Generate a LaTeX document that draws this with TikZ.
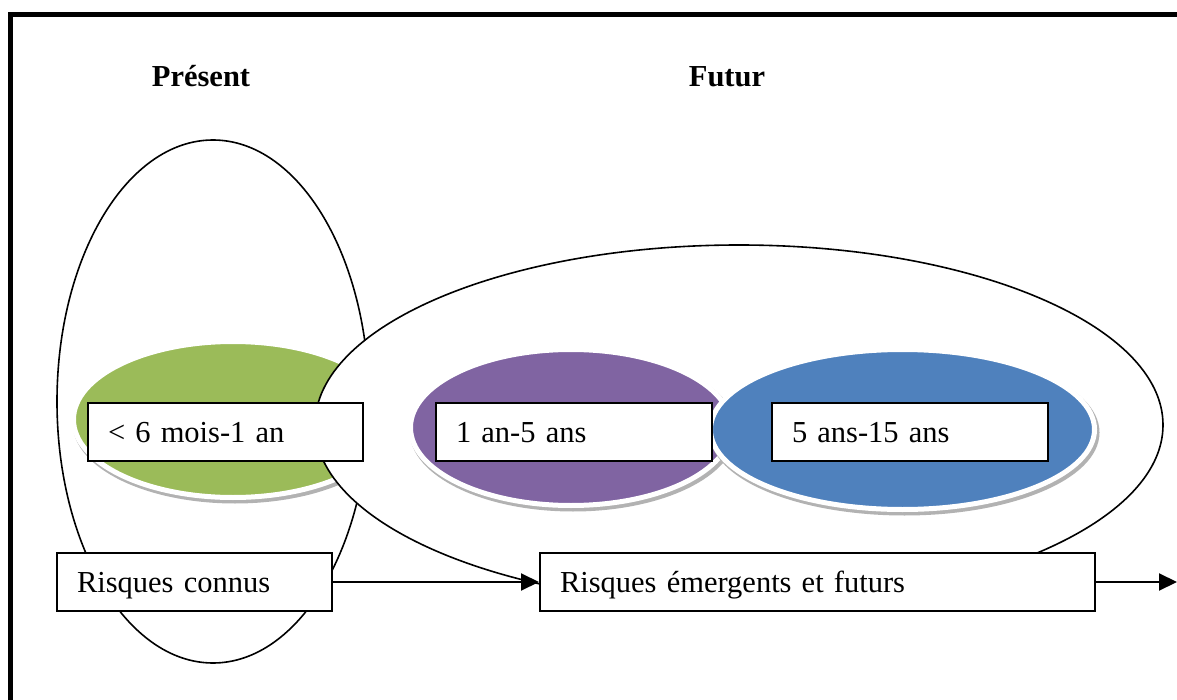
\documentclass[tikz,border=0pt]{standalone}
\usepackage{fontspec}
\setmainfont{Liberation Serif}
\usetikzlibrary{shapes.geometric,arrows.meta}
\definecolor{leafgreen}{HTML}{9BBB59}
\definecolor{plum}{HTML}{8064A2}
\definecolor{steel}{HTML}{4F81BD}
\begin{document}
\begin{tikzpicture}[x=1pt,y=-1pt,
  every node/.style={font=\fontsize{30.5}{36}\selectfont},
  heading/.style={font=\fontsize{30.5}{36}\selectfont\bfseries, anchor=base},
  horizon/.style={ellipse, draw=black, line width=1.6pt, inner sep=0pt},
  term/.style={ellipse, inner sep=0pt, fill=#1, draw=white, line width=5pt,
    preaction={draw=black!30, line width=6pt,
      transform canvas={shift={(2pt,-3pt)}}}},
  boxnode/.style={rectangle, draw=black, line width=2pt, fill=white,
    minimum height=58pt, inner xsep=20pt, inner ysep=0pt, align=left,
    text height=21pt, text depth=0pt},
  link/.style={line width=2pt, -{Triangle[length=18pt,width=17pt]}}
]
\useasboundingbox (0,0) rectangle (1177,700);
\begin{scope}
\clip (0,0) rectangle (1177,700);

% outer frame
\draw[line width=5.5pt] (10.5,14.5) rectangle (1210,730);

% column headings
\node[heading] (present-title) at (201,87) {Présent};
\node[heading] (future-title) at (727,87) {Futur};

% present horizon and short term
\node[horizon, minimum width=312pt, minimum height=523pt] (present) at (213,401.5) {};
\node[term=leafgreen, minimum width=319pt, minimum height=156pt] (shortterm) at (233,419.5) {};

% future horizon with medium and long term
\node[horizon, fill=white, minimum width=848pt, minimum height=360pt] (future) at (739,425) {};
\node[term=plum, minimum width=321pt, minimum height=156pt] (midterm) at (571,427.5) {};
\node[term=steel, minimum width=384pt, minimum height=160pt] (longterm) at (902.5,429.5) {};

% time ranges
\node[boxnode, text width=235pt] (short) at (225.5,432) {< 6 mois-1 an};
\node[boxnode, text width=236pt] (medium) at (574,432) {1 an-5 ans};
\node[boxnode, text width=236pt] (long) at (910,432) {5 ans-15 ans};

% risks
\node[boxnode, text width=235pt] (known) at (194.5,582) {Risques connus};
\node[boxnode, text width=515pt] (emerging) at (817.5,582) {Risques émergents et futurs};
\coordinate (beyond) at (1177,582);

\draw[link] (known.east) -- (emerging.west);
\draw[link] (emerging.east) -- (beyond);
\end{scope}
\end{tikzpicture}
\end{document}
